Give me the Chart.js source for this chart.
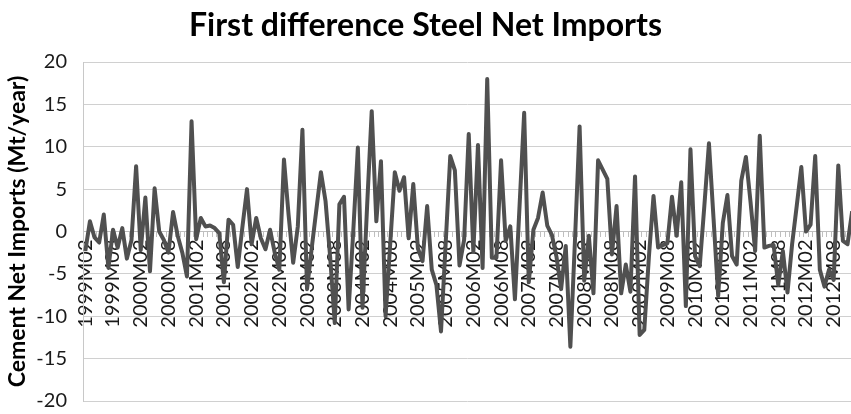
<!DOCTYPE html>
<html>
<head>
<meta charset="utf-8">
<style>
html,body{margin:0;padding:0;background:#fff;overflow:hidden}
#wrap{width:851px;height:414px;position:relative}
</style>
<script src="https://cdn.jsdelivr.net/npm/chart.js"></script>
</head>
<body>
<div id="wrap"><canvas id="c" width="851" height="414"></canvas></div>
<script>
const categories = [
  "1999M02","1999M03","1999M04","1999M05","1999M06","1999M07","1999M08","1999M09","1999M10","1999M11","1999M12",
  "2000M01","2000M02","2000M03","2000M04","2000M05","2000M06","2000M07","2000M08","2000M09","2000M10","2000M11","2000M12",
  "2001M01","2001M02","2001M03","2001M04","2001M05","2001M06","2001M07","2001M08","2001M09","2001M10","2001M11","2001M12",
  "2002M01","2002M02","2002M03","2002M04","2002M05","2002M06","2002M07","2002M08","2002M09","2002M10","2002M11","2002M12",
  "2003M01","2003M02","2003M03","2003M04","2003M05","2003M06","2003M07","2003M08","2003M09","2003M10","2003M11","2003M12",
  "2004M01","2004M02","2004M03","2004M04","2004M05","2004M06","2004M07","2004M08","2004M09","2004M10","2004M11","2004M12",
  "2005M01","2005M02","2005M03","2005M04","2005M05","2005M06","2005M07","2005M08","2005M09","2005M10","2005M11","2005M12",
  "2006M01","2006M02","2006M03","2006M04","2006M05","2006M06","2006M07","2006M08","2006M09","2006M10","2006M11","2006M12",
  "2007M01","2007M02","2007M03","2007M04","2007M05","2007M06","2007M07","2007M08","2007M09","2007M10","2007M11","2007M12",
  "2008M01","2008M02","2008M03","2008M04","2008M05","2008M06","2008M07","2008M08","2008M09","2008M10","2008M11","2008M12",
  "2009M01","2009M02","2009M03","2009M04","2009M05","2009M06","2009M07","2009M08","2009M09","2009M10","2009M11","2009M12",
  "2010M01","2010M02","2010M03","2010M04","2010M05","2010M06","2010M07","2010M08","2010M09","2010M10","2010M11","2010M12",
  "2011M01","2011M02","2011M03","2011M04","2011M05","2011M06","2011M07","2011M08","2011M09","2011M10","2011M11","2011M12",
  "2012M01","2012M02","2012M03","2012M04","2012M05","2012M06","2012M07","2012M08","2012M09","2012M10","2012M11","2012M12"
];

const steelNetImportsDiff = [
  -2.3, 1.2, -0.7, -1.3, 2.0, -4.3, 0.2, -1.9, 0.4, -3.2, -1.0,
  7.7, -2.2, 4.0, -4.7, 5.1, 0.0, -1.0, -2.5, 2.3, -0.5, -2.5, -5.3,
  13.0, -0.9, 1.6, 0.6, 0.7, 0.4, -0.2, -6.0, 1.4, 0.8, -4.2, 0.5,
  5.0, -1.5, 1.6, -0.8, -2.1, 0.2, -2.5, -4.5, 8.5, 2.0, -3.7, 0.6,
  12.0, -6.8, -2.0, 2.5, 7.0, 3.6, -3.0, -10.8, 3.2, 4.1, -9.2, 0.0,
  9.9, -9.0, 3.0, 14.2, 1.2, 8.3, -10.0, -1.5, 7.0, 4.8, 6.4, -0.8,
  5.6, -2.0, -3.5, 3.0, -4.5, -6.3, -11.8, -1.5, 8.9, 7.2, -4.0, -1.0,
  11.5, -2.4, 10.2, -4.3, 18.0, -3.1, -3.1, 8.4, -1.1, 0.6, -8.0, 3.0,
  14.0, -6.0, 0.2, 1.6, 4.6, 0.7, -0.4, -3.0, -6.8, -1.7, -13.6, -1.0,
  12.4, -5.8, -0.5, -7.3, 8.4, 7.3, 6.2, -2.7, 3.0, -7.3, -3.9, -7.1,
  6.5, -12.2, -11.6, -3.0, 4.2, -1.9, -1.6, -1.4, 4.1, -0.5, 5.8, -8.8,
  9.7, -2.9, -4.1, 3.0, 10.4, 1.5, -7.6, 1.0, 4.3, -2.9, -3.9, 6.0,
  8.8, 3.5, -2.3, 11.3, -1.9, -1.7, -1.6, -6.3, -2.3, -7.2, -1.5, 3.0,
  7.6, 0.0, 0.8, 8.9, -4.5, -6.5, -4.5, -5.7, 7.8, -1.1, -1.5, 2.4
];

const yTickValues = [-20, -15, -10, -5, 0, 5, 10, 15, 20];
const labelEvery = 6;
const chartTitle = "First difference Steel Net Imports";
const yTitle = "Cement Net Imports (Mt/year)";

const FONT = "Lato, 'Open Sans', sans-serif";

new Chart(document.getElementById('c'), {
  type: 'line',
  data: {
    datasets: [{
      data: steelNetImportsDiff.map((v, i) => ({ x: i, y: v })),
      borderColor: '#505050',
      borderWidth: 4,
      pointRadius: 0,
      tension: 0,
      borderJoinStyle: 'round',
      xAxisID: 'x',
      yAxisID: 'y'
    }]
  },
  options: {
    responsive: false,
    animation: false,
    events: [],
    layout: { padding: { left: 0, right: 0, top: 0, bottom: 13 } },
    plugins: {
      legend: { display: false },
      tooltip: { enabled: false },
      title: {
        display: true,
        text: chartTitle,
        color: '#000',
        font: { family: FONT, size: 32, weight: 'bold' },
        padding: { top: 6, bottom: 17.6 }
      }
    },
    scales: {
      x: {
        type: 'linear',
        position: { y: 0 },
        min: -0.5,
        max: 165.75,
        z: 1,
        afterFit: (s) => { s.paddingLeft = 0; s.paddingRight = 0; s.paddingTop = 0; s.paddingBottom = 0; },
        grid: { display: true, drawOnChartArea: false, drawTicks: false },
        border: { display: true, color: '#bfbfbf', width: 1 },
        ticks: {
          stepSize: labelEvery,
          includeBounds: false,
          autoSkip: false,
          minRotation: 90,
          maxRotation: 90,
          padding: 8,
          color: '#1a1a1a',
          font: { family: FONT, size: 20 },
          callback: (v) => (v % labelEvery === 0 && categories[v]) ? categories[v] : ''
        }
      },
      xm: {
        type: 'linear',
        axis: 'x',
        position: { y: 0 },
        min: 0,
        max: 166.25,
        afterFit: (s) => { s.paddingLeft = 0; s.paddingRight = 0; s.paddingTop = 0; s.paddingBottom = 0; },
        grid: { display: true, drawOnChartArea: false, drawTicks: true, tickLength: 5, color: '#bfbfbf' },
        border: { display: false },
        ticks: { display: false, stepSize: 1, includeBounds: false, autoSkip: false }
      },
      y: {
        type: 'linear',
        position: 'left',
        min: -20,
        max: 20,
        afterFit: (s) => { s.width = 83; s.paddingTop = 0; s.paddingBottom = 0; },
        afterBuildTicks: (s) => { s.ticks = yTickValues.map(v => ({ value: v })); },
        grid: { color: '#d0d0d0', lineWidth: 1, drawTicks: false },
        border: { display: true, color: '#c8c8c8', width: 1 },
        ticks: {
          stepSize: 5,
          padding: 16,
          color: '#1a1a1a',
          font: { family: FONT, size: 20 }
        },
        title: {
          display: true,
          text: yTitle,
          color: '#000',
          font: { family: FONT, size: 23, weight: 'bold' },
          padding: { top: 4, bottom: 0 }
        }
      }
    }
  }
});
</script>
</body>
</html>
